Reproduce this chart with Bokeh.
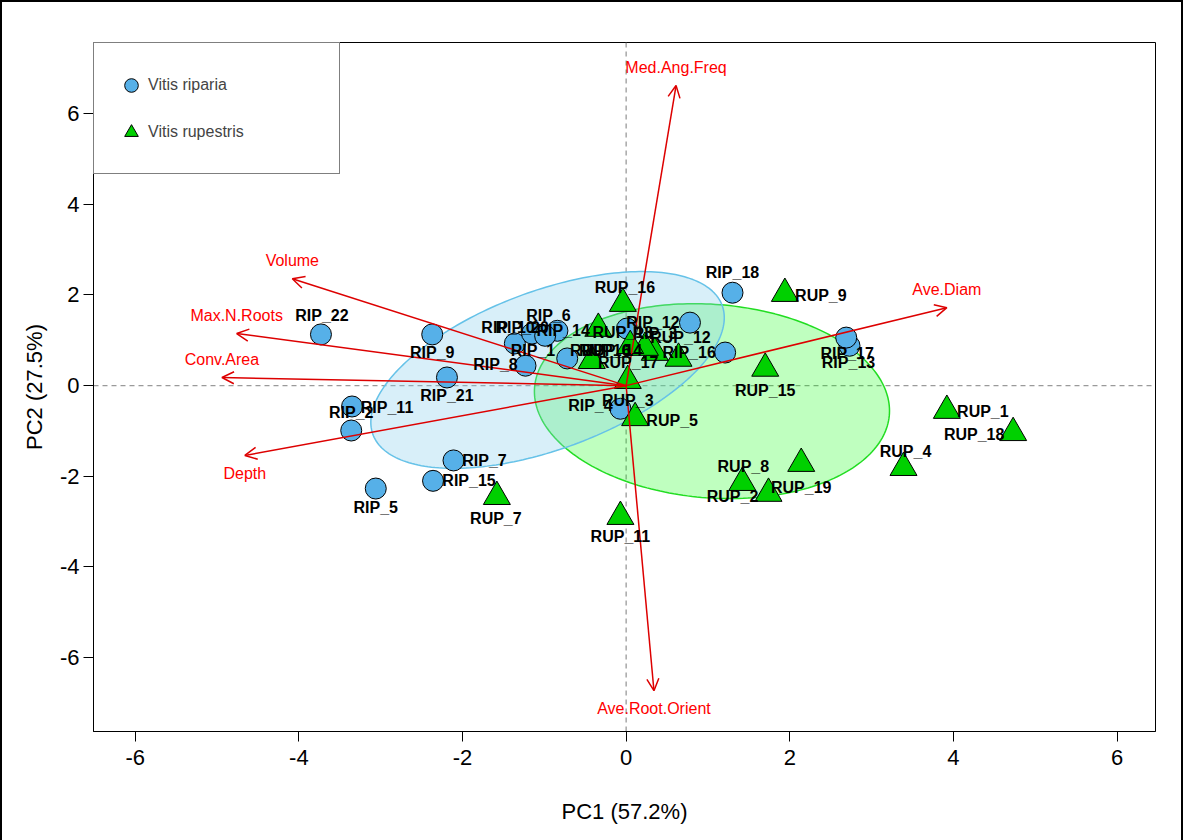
import numpy as np
from bokeh.plotting import figure
from bokeh.models import (ColumnDataSource, Arrow, OpenHead, FixedTicker, Span,
                          Legend, LegendItem, Range1d)
from bokeh.core.properties import value
from bokeh.embed import file_html
from bokeh.resources import INLINE

# ---------------- data ----------------
rip_names = ["RIP_1", "RIP_2", "RIP_3", "RIP_4", "RIP_5", "RIP_6", "RIP_7", "RIP_8",
             "RIP_9", "RIP_10", "RIP_11", "RIP_12", "RIP_13", "RIP_14", "RIP_15",
             "RIP_16", "RIP_17", "RIP_18", "RIP_20", "RIP_21", "RIP_22"]
rip_pc1 = [-1.36, -3.36, 0.01, -0.07, -3.06, -0.84, -2.11, -1.23,
           -2.37, -1.15, -3.35, 0.78, 2.73, -0.99, -2.36,
           1.21, 2.69, 1.30, -0.72, -2.19, -3.73]
rip_pc2 = [0.93, -0.99, 1.26, -0.51, -2.27, 1.21, -1.65, 0.44,
           1.13, 1.15, -0.46, 1.39, 0.88, 1.10, -2.10,
           0.73, 1.06, 2.05, 0.60, 0.18, 1.13]

rup_names = ["RUP_1", "RUP_2", "RUP_3", "RUP_4", "RUP_5", "RUP_6", "RUP_7", "RUP_8",
             "RUP_9", "RUP_10", "RUP_11", "RUP_12", "RUP_13", "RUP_14", "RUP_15",
             "RUP_16", "RUP_17", "RUP_18", "RUP_19"]
rup_pc1 = [3.92, 1.74, 0.02, 3.39, 0.11, -0.42, -1.58, 1.42,
           1.94, -0.34, -0.07, 0.64, 0.35, 0.23, 1.70,
           -0.04, 0.05, 4.73, 2.14]
rup_pc2 = [-0.55, -2.38, 0.11, -1.81, -0.71, 0.55, -2.45, -2.14,
           2.03, 1.26, -2.89, 0.60, 0.73, 0.84, 0.38,
           1.81, 0.88, -1.04, -1.72]

var_names = ["Med.Ang.Freq", "Ave.Diam", "Volume", "Max.N.Roots", "Conv.Area",
             "Depth", "Ave.Root.Orient"]
var_pc1 = [0.61, 3.92, -4.08, -4.76, -4.94, -4.66, 0.34]
var_pc2 = [6.62, 1.72, 2.36, 1.15, 0.18, -1.54, -6.73]

x_ticks = [-6, -4, -2, 0, 2, 4, 6]
y_ticks = [-6, -4, -2, 0, 2, 4, 6]
group_labels = ["Vitis riparia", "Vitis rupestris"]
x_label = "PC1 (57.2%)"
y_label = "PC2 (27.5%)"

# ellipse shape: (half-extent x, half-extent y, phase)
rip_ell = (2.16, 2.17, 1.01)
rup_ell = (2.17, 2.15, 1.67)

# ---------------- style ----------------
FONT = "Liberation Sans"
BLUE_PT = "#56B0E8"
GREEN_PT = "#00D000"
RED_LINE = "#dd0000"
RED_TXT = "#ff0000"

# label offsets (screen pixels, +y is down)
rip_off = [(18, 7), (0, -18), (28, 5), (-30, -3), (0, 19), (-9, -15), (31, 0), (-30, -1),
           (0, 18), (-24, -6), (35, 1), (-37, 0), (-1, 17), (18, -5), (36, 0),
           (-36, 0), (1, 16), (0, -20), (-45, -31), (0, 18), (1, -19)]
rup_off = [(36, 1), (-36, 3), (0, 20), (2, -16), (37, 3), (13, -10), (-1, 22), (1, -16),
           (36, 2), (2, 22), (0, 20), (2, -21), (-32, -20), (-33, 3), (0, 22),
           (2, -16), (-2, 17), (-39, 2), (0, 24)]


def ellipse(xs, ys, shape):
    hx, hy, ph = shape
    t = np.linspace(0, 2 * np.pi, 240)
    cx, cy = float(np.mean(xs)), float(np.mean(ys))
    return cx + hx * np.cos(t), cy + hy * np.cos(t - ph)


p = figure(width=1183, height=840,
           x_range=Range1d(-6.51, 6.47), y_range=Range1d(-7.63, 7.57),
           output_backend="svg", toolbar_location=None,
           min_border_left=91, min_border_right=30, min_border_top=40, min_border_bottom=111,
           background_fill_color="white", border_fill_color="white")
p.grid.visible = False
p.outline_line_color = "black"
p.outline_line_width = 1
p.styles = {"border-left": "2px solid black", "border-top": "2px solid black",
            "border-right": "2px solid black", "box-sizing": "border-box"}

for ax in (p.xaxis[0], p.yaxis[0]):
    ax.major_tick_out = 10
    ax.major_tick_in = 0
    ax.minor_tick_out = 0
    ax.minor_tick_in = 0
    ax.axis_line_color = "black"
    ax.major_tick_line_color = "black"
    ax.major_label_text_font = FONT
    ax.major_label_text_font_size = "22px"
    ax.major_label_text_color = "black"
    ax.axis_label_text_font = FONT
    ax.axis_label_text_font_size = "22px"
    ax.axis_label_text_font_style = "normal"
    ax.axis_label_text_color = "black"
p.xaxis.ticker = FixedTicker(ticks=x_ticks)
p.yaxis.ticker = FixedTicker(ticks=y_ticks)
p.xaxis.major_label_overrides = {t: str(t) for t in x_ticks}
p.yaxis.major_label_overrides = {t: str(t) for t in y_ticks}
p.xaxis.major_label_standoff = 8
p.yaxis.major_label_standoff = 4
p.yaxis.major_label_orientation = "horizontal"
p.xaxis.axis_label = x_label
p.yaxis.axis_label = y_label
p.xaxis.axis_label_standoff = 31
p.yaxis.axis_label_standoff = 10

# ellipses
gx, gy = ellipse(rup_pc1, rup_pc2, rup_ell)
p.patch(gx, gy, fill_color="#00ff00", fill_alpha=0.25, line_color="#22dd22", line_width=1.5)
bx, by = ellipse(rip_pc1, rip_pc2, rip_ell)
p.patch(bx, by, fill_color="#87CEEB", fill_alpha=0.32, line_color="#66c2e8", line_width=1.5)

# zero lines
for dim in ("width", "height"):
    p.add_layout(Span(location=0, dimension=dim, line_color="#9a9a9a", line_width=1.3,
                      line_dash="5 4", level="underlay"))

# points
rip_src = ColumnDataSource(dict(x=rip_pc1, y=rip_pc2, name=rip_names,
                                dx=[o[0] for o in rip_off], dy=[o[1] for o in rip_off]))
rup_src = ColumnDataSource(dict(x=rup_pc1, y=rup_pc2, name=rup_names,
                                dx=[o[0] for o in rup_off], dy=[o[1] for o in rup_off]))
circ = p.scatter("x", "y", source=rip_src, marker="circle", size=21,
                 fill_color=BLUE_PT, line_color="black", line_width=1)
tri = p.scatter("x", "y", source=rup_src, marker="triangle", size=27,
                fill_color=GREEN_PT, line_color="black", line_width=1)

# loadings arrows
n = len(var_names)
vsrc = ColumnDataSource(dict(x0=np.zeros(n), y0=np.zeros(n), x1=var_pc1, y1=var_pc2,
                             name=var_names,
                             yoff=[-18 if v >= 0 else 18 for v in var_pc2]))
arr = Arrow(end=OpenHead(size=12, line_color=RED_LINE, line_width=1.5),
            x_start="x0", y_start="y0", x_end="x1", y_end="y1", source=vsrc,
            line_color=RED_LINE, line_width=1.5)
p.add_layout(arr)

vt = p.text("x1", "y1", text="name", source=vsrc, y_offset="yoff",
            text_font=value(FONT), text_font_size="16px", text_color=RED_TXT,
            text_align="center", text_baseline="middle")
vt.level = "overlay"

for src in (rip_src, rup_src):
    t = p.text("x", "y", text="name", source=src, x_offset="dx", y_offset="dy",
               text_font=value(FONT), text_font_size="16px", text_font_style="bold",
               text_color="black", text_align="center", text_baseline="middle")
    t.level = "overlay"

legend = Legend(items=[LegendItem(label=group_labels[0], renderers=[circ]),
                       LegendItem(label=group_labels[1], renderers=[tri])],
                location="top_left", margin=0, padding=20, spacing=4,
                glyph_width=34, glyph_height=34, label_height=43, label_width=171,
                label_standoff=0, border_line_color="black", border_line_width=1,
                background_fill_color="white", background_fill_alpha=1,
                label_text_font=FONT, label_text_font_size="16px")
p.add_layout(legend)

open("out.html", "w").write(file_html(p, INLINE))
